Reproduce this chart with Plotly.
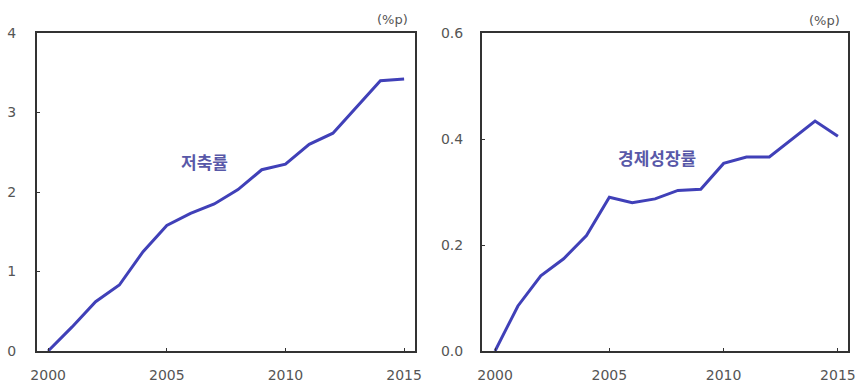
import plotly.graph_objects as go

years = list(range(2000, 2016))
savings = [0.0, 0.30, 0.62, 0.83, 1.25, 1.58, 1.73, 1.85, 2.03, 2.28, 2.35, 2.60, 2.74, 3.07, 3.40, 3.42]
growth = [0.0, 0.085, 0.142, 0.174, 0.218, 0.290, 0.280, 0.287, 0.303, 0.305, 0.354, 0.366, 0.366, 0.400, 0.434, 0.405]

left_ticks = [0, 1, 2, 3, 4]
right_ticks = [0.0, 0.2, 0.4, 0.6]
right_ticktext = ["0.0", "0.2", "0.4", "0.6"]
x_ticks = [2000, 2005, 2010, 2015]

line_color = "#4040B8"
label_color = "#5858A8"
tick_font = "DejaVu Sans"
kor_font = "Noto Sans CJK KR"

fig = go.Figure()
fig.add_trace(go.Scatter(x=years, y=savings, mode="lines",
                         line=dict(color=line_color, width=3), xaxis="x", yaxis="y",
                         showlegend=False))
fig.add_trace(go.Scatter(x=years, y=growth, mode="lines",
                         line=dict(color=line_color, width=3), xaxis="x2", yaxis="y2",
                         showlegend=False))

axis_common = dict(showgrid=False, zeroline=False, showline=True, linecolor="#333333",
                   linewidth=2, mirror=True, ticks="inside", ticklen=3,
                   tickcolor="#333333", automargin=False,
                   tickfont=dict(family=tick_font, size=14, color="#555555"))

fig.update_layout(
    width=860, height=387,
    margin=dict(l=0, r=0, t=0, b=0, autoexpand=False),
    paper_bgcolor="white", plot_bgcolor="white",
    xaxis=dict(domain=[0.043, 0.4826], range=[1999.53, 2015.46], tickvals=x_ticks,
               anchor="y", ticklabelstandoff=10, **axis_common),
    yaxis=dict(domain=[0.093, 0.9147], range=[0, 4], tickvals=left_ticks,
               anchor="x", ticklabelstandoff=16, **axis_common),
    xaxis2=dict(domain=[0.5605, 0.986], range=[1999.43, 2015.44], tickvals=x_ticks,
                anchor="y2", ticklabelstandoff=10, **axis_common),
    yaxis2=dict(domain=[0.093, 0.9147], range=[0, 0.6], tickvals=right_ticks,
                ticktext=right_ticktext, anchor="x2", ticklabelstandoff=14, **axis_common),
    annotations=[
        dict(text="<b>저축률</b>", x=2006.6, y=2.39, xref="x", yref="y", showarrow=False,
             font=dict(family=kor_font, size=17, color=label_color)),
        dict(text="<b>경제성장률</b>", x=2007.1, y=0.366, xref="x2", yref="y2", showarrow=False,
             font=dict(family=kor_font, size=17, color=label_color)),
        dict(text="(%p)", x=410/860, y=1 - 19/387, xref="paper", yref="paper", xanchor="right",
             yanchor="middle", showarrow=False,
             font=dict(family=tick_font, size=13, color="#555555")),
        dict(text="(%p)", x=842/860, y=1 - 20/387, xref="paper", yref="paper", xanchor="right",
             yanchor="middle", showarrow=False,
             font=dict(family=tick_font, size=13, color="#555555")),
    ],
)

fig.write_html("out.html")
